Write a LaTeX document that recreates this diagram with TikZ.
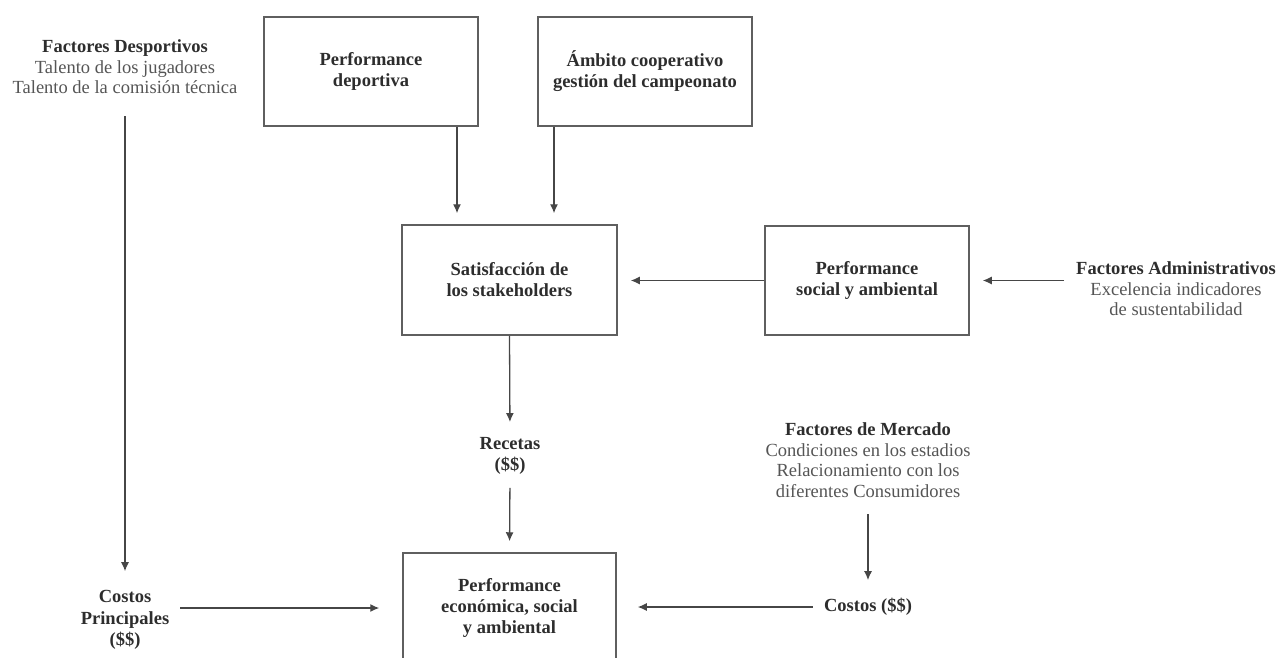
\documentclass[tikz,border=0pt]{standalone}
\usepackage{fontspec}
\setmainfont{Liberation Serif}
\usetikzlibrary{arrows.meta}
\definecolor{linegray}{RGB}{70, 70, 70}
\definecolor{boxgray}{RGB}{95, 95, 95}
\definecolor{headgray}{RGB}{45, 45, 45}
\definecolor{textgray}{RGB}{85, 85, 85}

\begin{document}
\begin{tikzpicture}[
    x=1pt, y=-1pt,
    font=\fontsize{18.5}{20.5}\selectfont,
    box/.style={rectangle, draw=boxgray, line width=1.5pt, minimum width=214pt, minimum height=109pt, align=center, text=headgray, font=\fontsize{18.5}{21}\selectfont\bfseries},
    factor/.style={align=center, inner sep=0pt, text=textgray},
    money/.style={align=center, inner sep=0pt, text=headgray, font=\fontsize{18.5}{21.5}\selectfont\bfseries},
    arrow/.style={-{Latex[length=9pt, width=8pt]}, line width=1.3pt, color=linegray}
]
    \useasboundingbox (0,0) rectangle (1287,657);

    \node[box] (deportiva) at (371, 71.5) {Performance\\deportiva};
    \node[box] (ambito) at (645, 71.5) {Ámbito cooperativo\\gestión del campeonato};
    \node[box, minimum width=215pt, minimum height=110pt] (satisf) at (509.5, 280) {Satisfacción de\\los stakeholders};
    \node[box, minimum width=204pt] (social) at (867, 280.5) {Performance\\social y ambiental};
    \node[box, minimum width=213pt, minimum height=110pt] (economica) at (509.5, 608) {Performance\\económica, social\\y ambiental};

    \node[factor] (desportivos) at (125, 67) {\textcolor{headgray}{\textbf{Factores Desportivos}}\\Talento de los jugadores\\Talento de la comisión técnica};
    \node[factor] (admin) at (1176, 289) {\textcolor{headgray}{\textbf{Factores Administrativos}}\\Excelencia indicadores\\de sustentabilidad};
    \node[factor] (mercado) at (868, 460) {\textcolor{headgray}{\textbf{Factores de Mercado}}\\Condiciones en los estadios\\Relacionamiento con los\\diferentes Consumidores};

    \node[money] (recetas) at (510, 456) {Recetas\\(\$\$)};
    \node[money] (costos) at (868, 607) {Costos (\$\$)};
    \node[money] (principales) at (125, 620) {Costos\\Principales\\(\$\$)};

    \draw[arrow, shorten >=11pt] ([xshift=86pt]deportiva.south) -- ([xshift=86pt]deportiva.south |- satisf.north);
    \draw[arrow, shorten >=11pt] ([xshift=-91pt]ambito.south) -- ([xshift=-91pt]ambito.south |- satisf.north);
    \draw[arrow, shorten >=13pt] (social.west) -- (social.west -| satisf.east);
    \draw[arrow, shorten <=12pt, shorten >=13pt] (admin.west |- social.east) -- (social.east);
    \draw[arrow, shorten >=15pt] (satisf.south) -- (recetas.north);
    \draw[arrow, shorten <=13pt, shorten >=11pt] (recetas.south) -- (economica.north);
    \draw[arrow, shorten <=17pt, shorten >=18pt] (mercado.south) -- (costos.north);
    \draw[arrow, shorten <=11pt, shorten >=21pt] (costos.west) -- (costos.west -| economica.east);
    \draw[arrow, shorten <=22pt, shorten >=19pt] (desportivos.south) -- (principales.north);
    \draw[arrow, shorten <=11pt, shorten >=23pt] (principales.east |- economica.west) -- (economica.west);
\end{tikzpicture}
\end{document}
